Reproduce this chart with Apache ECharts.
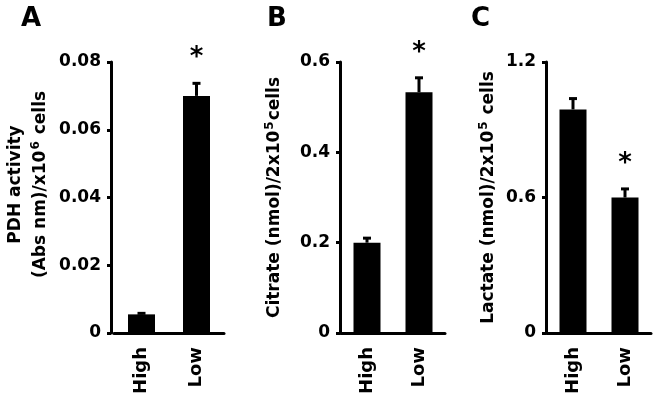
<!DOCTYPE html>
<html>
<head>
<meta charset="utf-8">
<script src="https://cdn.jsdelivr.net/npm/echarts@6/dist/echarts.min.js"></script>
<style>html,body{margin:0;padding:0;background:#fff}#c{width:656px;height:400px}</style>
</head>
<body>
<div id="c"></div>
<script>
const categories = ['High', 'Low'];
const significant = [false, true];

const pdhMean = [0.0055, 0.0700];
const pdhErr = [0.0003, 0.0037];
const pdhTicks = { min: 0, max: 0.08, interval: 0.02 };

const citrateMean = [0.200, 0.533];
const citrateErr = [0.010, 0.032];
const citrateTicks = { min: 0, max: 0.6, interval: 0.2 };

const lactateMean = [0.990, 0.600];
const lactateErr = [0.048, 0.038];
const lactateTicks = { min: 0, max: 1.2, interval: 0.6 };

const panelLetters = ['A', 'B', 'C'];

const FONT = 'DejaVu Sans';
const chart = echarts.init(document.getElementById('c'), null, { renderer: 'canvas' });

const grids = [
  { left: 114, width: 110, top: 62, bottom: 67 },
  { left: 341, width: 104, top: 62, bottom: 67 },
  { left: 547, width: 104, top: 62, bottom: 67 }
];
const yOffsets = [3, 1, 1];
const ticks = [pdhTicks, citrateTicks, lactateTicks];
const means = [pdhMean, citrateMean, lactateMean];
const errs = [pdhErr, citrateErr, lactateErr];
const labelFmt = [
  v => v === 0 ? '0' : v.toFixed(2),
  v => v === 0 ? '0' : v.toFixed(1),
  v => v === 0 ? '0' : v.toFixed(1)
];
const names = [
  '{t|PDH activity}\n{t|(Abs nm)/x10}{s|6}{t| cells}',
  '{t|Citrate (nmol)/2x10}{s|5}{t|cells}',
  '{t|Lactate (nmol)/2x10}{s|5}{t| cells}'
];
const nameGaps = [58, 53, 45];
const namePad = [[0, 0, 0, 26], [0, 0, 0, 0], [0, 0, 0, 0]];

const rich = {
  t: { fontFamily: FONT, fontWeight: 'bold', fontSize: 17, color: '#000', lineHeight: 25 },
  s: { fontFamily: FONT, fontWeight: 'bold', fontSize: 12, color: '#000', lineHeight: 25, padding: [0, 1, 9, 1] }
};

const xAxis = [], yAxis = [], series = [];
for (let i = 0; i < 3; i++) {
  xAxis.push({
    type: 'category', gridIndex: i, data: categories,
    axisLine: { lineStyle: { color: '#000', width: 3 } },
    axisTick: { alignWithLabel: true, length: 10, lineStyle: { color: '#000', width: 3 } },
    axisLabel: { rotate: 90, margin: 14, color: '#000', fontFamily: FONT, fontWeight: 'bold', fontSize: 18 }
  });
  yAxis.push({
    type: 'value', gridIndex: i, min: ticks[i].min, max: ticks[i].max, interval: ticks[i].interval,
    offset: yOffsets[i],
    splitLine: { show: false },
    axisLine: { show: true, lineStyle: { color: '#000', width: 3 } },
    axisTick: { show: true, length: 4, lineStyle: { color: '#000', width: 3 } },
    axisLabel: { margin: 10, color: '#000', fontFamily: FONT, fontWeight: 'bold', fontSize: 17, formatter: labelFmt[i] },
    name: names[i], nameLocation: 'middle', nameRotate: 90, nameGap: nameGaps[i],
    nameTextStyle: { rich: rich, padding: namePad[i], align: 'center' }
  });
  series.push({
    type: 'bar', xAxisIndex: i, yAxisIndex: i, data: means[i], barWidth: 27,
    itemStyle: { color: '#000' }, silent: true
  });
  const m = means[i], e = errs[i];
  series.push({
    type: 'custom', xAxisIndex: i, yAxisIndex: i, silent: true, z: 5,
    data: categories.map((c, k) => [k, m[k], e[k], significant[k] ? 1 : 0]),
    renderItem: function (params, api) {
      const x = api.coord([api.value(0), 0])[0];
      const yMean = api.coord([api.value(0), api.value(1)])[1];
      const yTop = api.coord([api.value(0), api.value(1) + api.value(2)])[1];
      const children = [
        { type: 'line', shape: { x1: x, y1: yMean, x2: x, y2: yTop }, style: { stroke: '#000', lineWidth: 3 } },
        { type: 'line', shape: { x1: x - 4, y1: yTop, x2: x + 4, y2: yTop }, style: { stroke: '#000', lineWidth: 3 } }
      ];
      if (api.value(3)) {
        children.push({ type: 'text', style: { text: '*', x: x, y: yTop - 25, textAlign: 'center', textVerticalAlign: 'middle', font: 'bold 26px "' + FONT + '"', fill: '#000' } });
      }
      return { type: 'group', children: children };
    }
  });
}

const letterX = [21, 267, 471];
const title = panelLetters.map((t, i) => ({
  text: t, left: letterX[i], top: 6, padding: 0,
  textStyle: { fontFamily: FONT, fontWeight: 'bold', fontSize: 26, color: '#000' }
}));

chart.setOption({
  animation: false,
  backgroundColor: '#fff',
  title: title,
  grid: grids,
  xAxis: xAxis,
  yAxis: yAxis,
  series: series
});
</script>
</body>
</html>
